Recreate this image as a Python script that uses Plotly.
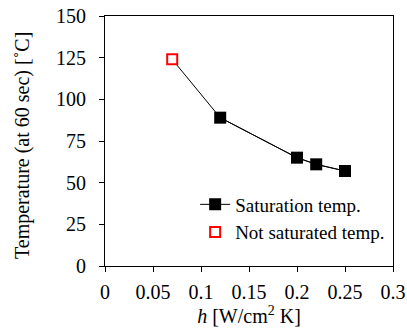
import plotly.graph_objects as go

h_all = [0.07, 0.12, 0.20, 0.22, 0.25]
temp_all = [124, 89, 65, 61, 57]
h_sat = [0.12, 0.20, 0.22, 0.25]
temp_sat = [89, 65, 61, 57]
h_not = [0.07]
temp_not = [124]
x_ticks = [0, 0.05, 0.1, 0.15, 0.2, 0.25, 0.3]
x_ticktext = ["0", "0.05", "0.1", "0.15", "0.2", "0.25", "0.3"]

font = "Liberation Serif, Times New Roman, serif"
fig = go.Figure()
fig.add_trace(go.Scatter(x=h_all, y=temp_all, mode="lines", line=dict(color="black", width=1),
                         showlegend=False, hoverinfo="skip"))
fig.add_trace(go.Scatter(x=h_sat, y=temp_sat, mode="lines+markers", name="Saturation temp.",
                         line=dict(color="black", width=1),
                         marker=dict(symbol="square", size=12, color="black")))
fig.add_trace(go.Scatter(x=h_not, y=temp_not, mode="markers", name="Not saturated temp.",
                         marker=dict(symbol="square", size=10, color="white",
                                     line=dict(color="red", width=2))))

axis_common = dict(showgrid=False, zeroline=False, showline=True, linecolor="black", linewidth=1,
                   mirror=True, ticks="outside", ticklen=5, tickcolor="black", automargin=False,
                   tickfont=dict(family=font, size=20, color="black"))
fig.update_xaxes(range=[0, 0.3], tickvals=x_ticks, ticktext=x_ticktext, ticklabelstandoff=3,
                 title=dict(text="<i>h</i> [W/cm<sup>2</sup> K]", font=dict(family=font, size=20, color="black"),
                            standoff=0),
                 **axis_common)
fig.update_yaxes(range=[0, 150], dtick=25, ticklabelstandoff=9, **axis_common)
fig.add_annotation(text="Temperature (at 60 sec) [˚C]", textangle=-90, xref="paper", yref="paper",
                   x=-0.288, y=0.48, xanchor="center", yanchor="middle", showarrow=False,
                   font=dict(family=font, size=20, color="black"))
fig.update_layout(width=407, height=335, margin=dict(l=105, r=14, t=16, b=69),
                  plot_bgcolor="white", paper_bgcolor="white",
                  legend=dict(x=0.313, y=0.322, xanchor="left", yanchor="top", bgcolor="rgba(0,0,0,0)",
                              font=dict(family=font, size=19, color="black"), itemwidth=30,
                              tracegroupgap=0))
fig.write_html("out.html")
